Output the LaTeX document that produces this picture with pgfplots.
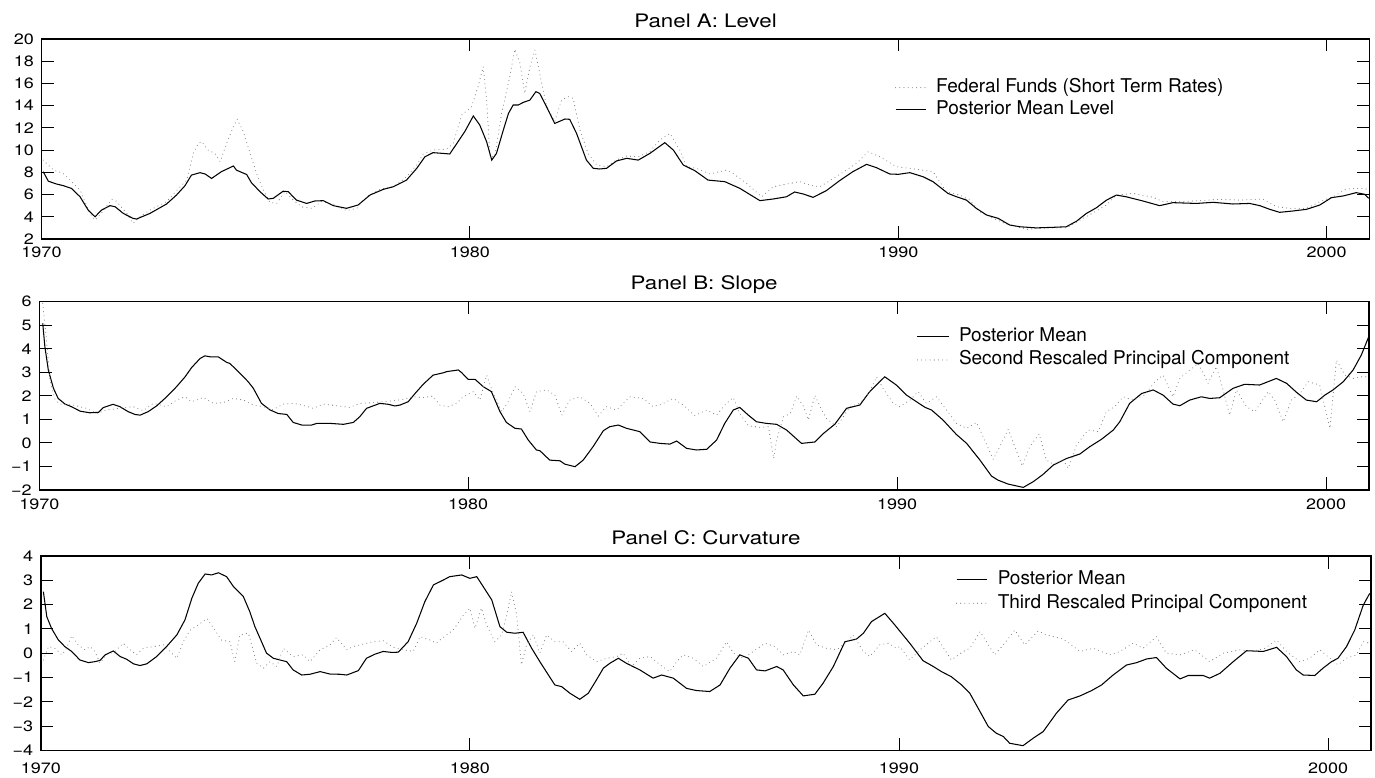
\documentclass[border=0pt]{standalone}
\usepackage{fontspec}
\setmainfont{TeX Gyre Heros}
\newfontfamily\stretchfamily{TeX Gyre Heros}[FakeStretch=1.2]
\usepackage{pgfplots}
\pgfplotsset{compat=1.18}
\newcommand\tickfont{\stretchfamily\fontsize{15bp}{18bp}\selectfont}
\newcommand\titlefont{\stretchfamily\fontsize{18.6bp}{22bp}\selectfont}
\newcommand\legfont{\fontsize{19bp}{22bp}\selectfont}
\pgfplotsset{
  every axis title/.style={at={(0.5,1)}, anchor=base, yshift=11.8bp, inner sep=0pt, font=\titlefont},
  panel/.style={
    scale only axis, xmin=1970, xmax=2001,
    xtick={1970,1980,1990,2000}, xticklabels={1970,1980,1990,2000},
    tick align=inside, major tick length=12.5bp,
    axis line style={line width=1.5bp},
    tick style={line width=0.9bp, black},
    ticklabel style={font=\tickfont},
    yticklabel style={anchor=east, inner sep=0pt, xshift=-7.5bp},
    legend cell align=left,
    legend image code/.code={\draw[##1] (0bp,0bp) -- (30bp,0bp);},
  },
  solidline/.style={black, line width=1.05bp},
  dotline/.style={black!50, line width=1.1bp, line cap=round, dash pattern=on 0pt off 4.2bp},
}
\begin{document}
\begin{tikzpicture}
\useasboundingbox (0,0) rectangle (1375bp,778bp);
% ---------------- Panel A ----------------
\begin{axis}[panel, at={(41.5bp,539bp)}, anchor=south west, width=1328bp, height=200bp,
  ymin=2, ymax=20, ytick={2,4,6,8,10,12,14,16,18,20},
  yticklabels={2,4,6,8,10,12,14,16,18,20},
  xticklabel style={anchor=base, inner sep=0pt, yshift=-18.5bp},
  title={Panel A: Level},
  legend style={draw=none, fill=none, at={(0.6427,0.8015)}, anchor=north west, inner sep=0pt, outer sep=0pt,
    font=\legfont, row sep=3.5bp, column sep=10bp, nodes={inner sep=0pt, text height=14bp, text depth=4bp}},
]
\addplot[dotline] coordinates {(1970.04,9.1)(1970.28,8.2)(1970.51,7.9)(1970.90,6.4)(1971.13,4.3)(1971.25,3.7)(1971.37,4.2)(1971.64,5.57)(1971.75,5.4)(1971.99,4.3)(1972.14,3.4)(1972.30,4.0)(1972.53,4.6)(1972.92,5.36)(1973.15,6.35)(1973.39,7.3)(1973.54,9.7)(1973.66,10.6)(1973.74,10.76)(1973.89,10.0)(1974.05,9.7)(1974.17,8.96)(1974.32,10.6)(1974.48,12.1)(1974.57,12.77)(1974.71,11.66)(1974.87,9.7)(1975.02,7.9)(1975.18,6.4)(1975.33,5.3)(1975.49,5.2)(1975.68,6.26)(1975.88,5.5)(1976.07,4.9)(1976.31,4.76)(1976.54,5.36)(1976.81,5.15)(1977.12,4.55)(1977.36,4.76)(1977.59,5.8)(1977.90,6.47)(1978.21,6.7)(1978.48,7.45)(1978.76,8.66)(1978.91,9.65)(1979.14,10.0)(1979.46,10.1)(1979.61,10.6)(1979.81,13.16)(1980.04,13.9)(1980.19,15.7)(1980.31,17.5)(1980.39,14.5)(1980.47,9.4)(1980.58,9.4)(1980.74,13.3)(1980.93,16.6)(1981.05,19.07)(1981.17,17.8)(1981.28,15.1)(1981.40,17.5)(1981.52,19.0)(1981.63,16.9)(1981.79,13.9)(1981.98,12.56)(1982.14,14.5)(1982.30,14.8)(1982.41,14.66)(1982.57,11.8)(1982.76,9.7)(1982.96,8.66)(1983.19,8.5)(1983.42,9.1)(1983.66,9.47)(1983.93,9.4)(1984.20,9.86)(1984.43,10.9)(1984.67,11.5)(1984.90,10.0)(1985.06,8.5)(1985.29,8.36)(1985.60,7.85)(1985.99,8.2)(1986.14,7.9)(1986.46,7.0)(1986.81,5.8)(1987.08,6.7)(1987.39,6.95)(1987.70,7.16)(1987.93,6.85)(1988.17,6.7)(1988.48,7.45)(1988.79,8.2)(1989.02,8.8)(1989.30,9.86)(1989.57,9.4)(1989.96,8.5)(1990.27,8.36)(1990.81,8.06)(1991.12,6.26)(1991.44,5.95)(1991.67,5.5)(1991.90,4.46)(1992.21,3.86)(1992.52,3.35)(1992.99,2.87)(1993.46,3.0)(1993.92,3.0)(1994.24,3.7)(1994.55,4.36)(1994.86,5.06)(1995.09,5.95)(1995.48,6.1)(1995.95,5.75)(1996.18,5.36)(1996.57,5.36)(1997.04,5.45)(1997.50,5.57)(1997.97,5.5)(1998.51,5.6)(1998.83,4.9)(1999.14,4.76)(1999.53,4.76)(1999.84,5.36)(2000.15,5.8)(2000.46,6.5)(2000.77,6.56)(2000.98,6.47)};
\addlegendentry{Federal Funds (Short Term Rates)}
\addplot[solidline] coordinates {(1970.04,8.06)(1970.16,7.2)(1970.35,6.95)(1970.51,6.8)(1970.70,6.55)(1970.90,5.8)(1971.09,4.6)(1971.25,4.0)(1971.40,4.6)(1971.60,5.0)(1971.72,4.9)(1971.91,4.3)(1972.14,3.85)(1972.22,3.8)(1972.53,4.3)(1972.92,5.15)(1973.15,5.95)(1973.35,6.8)(1973.50,7.75)(1973.70,7.97)(1973.82,7.85)(1973.97,7.45)(1974.20,8.06)(1974.48,8.57)(1974.55,8.2)(1974.79,7.8)(1974.90,7.07)(1975.10,6.26)(1975.29,5.6)(1975.41,5.66)(1975.64,6.3)(1975.76,6.26)(1975.95,5.5)(1976.19,5.2)(1976.38,5.42)(1976.58,5.45)(1976.81,5.0)(1977.12,4.76)(1977.39,5.06)(1977.67,5.96)(1977.98,6.47)(1978.21,6.7)(1978.52,7.3)(1978.76,8.36)(1978.95,9.4)(1979.14,9.77)(1979.38,9.7)(1979.53,9.65)(1979.88,11.66)(1980.08,13.07)(1980.23,12.26)(1980.39,10.76)(1980.51,9.1)(1980.62,9.7)(1980.78,11.8)(1980.90,13.3)(1981.01,14.06)(1981.13,14.06)(1981.25,14.3)(1981.40,14.5)(1981.54,15.26)(1981.63,15.1)(1981.79,13.9)(1981.98,12.4)(1982.10,12.6)(1982.22,12.8)(1982.33,12.77)(1982.49,11.5)(1982.72,9.1)(1982.88,8.36)(1983.03,8.3)(1983.19,8.36)(1983.42,9.02)(1983.66,9.26)(1983.93,9.1)(1984.20,9.7)(1984.55,10.67)(1984.75,10.0)(1984.98,8.66)(1985.25,8.15)(1985.56,7.3)(1985.95,7.16)(1986.30,6.56)(1986.77,5.45)(1987.08,5.6)(1987.39,5.8)(1987.58,6.23)(1987.78,6.05)(1988.01,5.75)(1988.32,6.35)(1988.63,7.25)(1988.94,8.06)(1989.26,8.72)(1989.49,8.42)(1989.80,7.85)(1990.00,7.82)(1990.27,7.97)(1990.58,7.6)(1990.81,7.16)(1991.16,6.1)(1991.36,5.8)(1991.59,5.5)(1991.82,4.76)(1992.06,4.16)(1992.33,3.86)(1992.60,3.26)(1992.84,3.1)(1993.22,3.0)(1993.61,3.05)(1993.92,3.1)(1994.16,3.6)(1994.39,4.3)(1994.62,4.8)(1994.86,5.5)(1995.09,5.95)(1995.32,5.8)(1995.71,5.42)(1996.10,5.0)(1996.41,5.27)(1996.96,5.2)(1997.35,5.3)(1997.81,5.15)(1998.20,5.2)(1998.44,5.0)(1998.67,4.67)(1998.90,4.4)(1999.21,4.52)(1999.53,4.67)(1999.84,5.06)(2000.11,5.72)(2000.38,5.87)(2000.69,6.17)(2000.89,6.02)(2000.98,5.66)};
\addlegendentry{Posterior Mean Level}
\end{axis}
% ---------------- Panel B ----------------
\begin{axis}[panel, at={(39.3bp,288bp)}, anchor=south west, width=1329.7bp, height=188.3bp,
  ymin=-2, ymax=6, ytick={-2,-1,0,1,2,3,4,5,6},
  yticklabels={−2,−1,0,1,2,3,4,5,6},
  xticklabel style={anchor=base, inner sep=0pt, yshift=-20bp},
  title={Panel B: Slope},
  legend style={draw=none, fill=none, at={(0.66,0.862)}, anchor=north west, inner sep=0pt, outer sep=0pt,
    font=\legfont, row sep=5.3bp, column sep=9.5bp, nodes={inner sep=0pt, text height=14bp, text depth=4bp}},
  legend image code/.code={\draw[#1] (0bp,0bp) -- (31.5bp,0bp);},
]
\addplot[solidline] coordinates {(1970.08,5.08)(1970.13,4.09)(1970.21,3.1)(1970.33,2.32)(1970.44,1.89)(1970.60,1.65)(1970.75,1.54)(1970.95,1.35)(1971.18,1.28)(1971.38,1.3)(1971.49,1.5)(1971.72,1.64)(1971.88,1.54)(1972.07,1.33)(1972.23,1.21)(1972.35,1.18)(1972.54,1.33)(1972.74,1.58)(1972.97,1.96)(1973.20,2.39)(1973.40,2.81)(1973.55,3.2)(1973.75,3.59)(1973.86,3.7)(1973.98,3.66)(1974.17,3.66)(1974.37,3.42)(1974.44,3.38)(1974.64,3.03)(1974.87,2.6)(1974.99,2.32)(1975.18,1.68)(1975.38,1.4)(1975.57,1.25)(1975.77,1.21)(1975.92,0.87)(1976.12,0.76)(1976.35,0.76)(1976.47,0.83)(1976.78,0.83)(1977.09,0.79)(1977.32,0.87)(1977.47,1.11)(1977.63,1.47)(1977.94,1.68)(1978.14,1.64)(1978.29,1.57)(1978.41,1.61)(1978.60,1.75)(1978.76,2.1)(1978.95,2.49)(1979.18,2.88)(1979.42,2.98)(1979.50,3.03)(1979.77,3.1)(1979.85,2.98)(1980.00,2.7)(1980.16,2.7)(1980.35,2.39)(1980.54,2.18)(1980.74,1.33)(1980.89,0.87)(1981.09,0.62)(1981.24,0.59)(1981.40,0.12)(1981.59,-0.3)(1981.67,-0.33)(1981.90,-0.73)(1982.14,-0.76)(1982.25,-0.9)(1982.49,-1.01)(1982.68,-0.73)(1982.91,-0.16)(1983.15,0.52)(1983.30,0.69)(1983.50,0.76)(1983.69,0.62)(1984.00,0.48)(1984.24,0.04)(1984.47,-0.02)(1984.70,-0.05)(1984.86,0.08)(1985.09,-0.23)(1985.32,-0.3)(1985.56,-0.27)(1985.79,0.12)(1985.98,0.83)(1986.18,1.4)(1986.33,1.51)(1986.53,1.18)(1986.72,0.9)(1986.95,0.83)(1987.19,0.79)(1987.42,0.55)(1987.77,-0.02)(1988.08,0.04)(1988.28,0.4)(1988.55,0.8)(1988.82,1.47)(1989.13,1.61)(1989.36,2.18)(1989.71,2.81)(1989.98,2.46)(1990.22,2.03)(1990.45,1.75)(1990.65,1.51)(1990.80,1.4)(1991.07,0.97)(1991.38,0.36)(1991.62,-0.02)(1991.93,-0.73)(1992.20,-1.41)(1992.35,-1.58)(1992.59,-1.75)(1992.94,-1.89)(1993.17,-1.65)(1993.40,-1.34)(1993.64,-0.94)(1993.95,-0.66)(1994.26,-0.47)(1994.49,-0.16)(1994.76,0.15)(1995.04,0.55)(1995.19,0.9)(1995.42,1.68)(1995.70,2.1)(1995.97,2.25)(1996.20,2.03)(1996.43,1.65)(1996.59,1.58)(1996.82,1.82)(1997.09,1.96)(1997.29,1.89)(1997.52,1.92)(1997.83,2.32)(1998.10,2.49)(1998.45,2.46)(1998.84,2.74)(1999.08,2.53)(1999.31,2.15)(1999.54,1.82)(1999.78,1.75)(1999.97,2.03)(2000.16,2.25)(2000.40,2.6)(2000.63,3.1)(2000.82,3.73)(2001.0,4.54)};
\addlegendentry{Posterior Mean}
\addplot[dotline] coordinates {(1970.08,5.93)(1970.16,4.51)(1970.25,2.67)(1970.37,1.82)(1970.48,1.65)(1970.79,1.61)(1971.10,1.47)(1971.34,1.25)(1971.57,1.4)(1971.88,1.47)(1972.19,1.54)(1972.42,1.37)(1972.66,1.68)(1972.97,1.54)(1973.20,1.82)(1973.40,1.96)(1973.55,1.75)(1973.82,1.93)(1974.06,1.68)(1974.29,1.71)(1974.52,1.89)(1974.76,1.82)(1974.99,1.61)(1975.22,1.54)(1975.45,1.42)(1975.69,1.65)(1975.92,1.68)(1976.12,1.61)(1976.39,1.47)(1976.62,1.65)(1976.93,1.58)(1977.24,1.51)(1977.47,1.68)(1977.79,1.71)(1978.02,1.75)(1978.25,1.79)(1978.49,1.85)(1978.72,1.96)(1978.95,1.93)(1979.18,1.99)(1979.34,1.61)(1979.53,1.54)(1979.73,1.68)(1979.88,1.96)(1980.12,2.18)(1980.27,1.82)(1980.43,2.88)(1980.58,2.1)(1980.78,1.33)(1980.93,1.75)(1981.09,2.39)(1981.28,2.1)(1981.44,1.33)(1981.59,2.18)(1981.83,2.25)(1982.02,2.03)(1982.18,1.18)(1982.37,1.82)(1982.60,1.96)(1982.84,1.68)(1983.03,1.14)(1983.22,1.54)(1983.46,1.4)(1983.77,1.96)(1984.08,1.89)(1984.31,1.54)(1984.55,1.68)(1984.78,1.89)(1985.01,1.61)(1985.28,1.16)(1985.56,1.4)(1985.79,1.18)(1985.98,1.61)(1986.18,1.93)(1986.33,1.25)(1986.53,0.73)(1986.81,0.66)(1987.00,0.69)(1987.12,-0.66)(1987.19,0.12)(1987.35,1.11)(1987.51,1.25)(1987.66,1.99)(1987.82,1.54)(1987.93,0.97)(1988.08,2.03)(1988.24,1.4)(1988.35,1.04)(1988.59,0.69)(1988.90,1.54)(1989.13,1.68)(1989.36,2.18)(1989.52,2.81)(1989.67,2.32)(1989.91,1.68)(1990.06,1.54)(1990.30,1.82)(1990.49,2.18)(1990.68,1.68)(1990.92,1.96)(1991.15,1.4)(1991.38,0.83)(1991.62,0.62)(1991.85,0.87)(1992.04,0.12)(1992.24,-0.7)(1992.39,-0.16)(1992.59,0.58)(1992.74,-0.16)(1992.92,-0.98)(1993.09,-0.16)(1993.31,0.38)(1993.48,-0.73)(1993.64,-0.9)(1993.87,-0.73)(1993.99,-1.08)(1994.18,-0.09)(1994.45,0.55)(1994.69,0.48)(1994.88,1.33)(1995.07,1.54)(1995.27,1.96)(1995.50,1.82)(1995.77,2.03)(1996.01,2.6)(1996.20,2.88)(1996.43,1.96)(1996.59,2.74)(1996.82,3.1)(1997.02,3.38)(1997.25,2.53)(1997.44,3.24)(1997.60,2.25)(1997.75,1.18)(1997.91,2.25)(1998.14,1.54)(1998.34,1.33)(1998.65,2.18)(1998.80,1.82)(1999.00,0.9)(1999.19,1.82)(1999.39,2.1)(1999.58,2.6)(1999.85,2.46)(2000.09,0.62)(2000.24,3.52)(2000.44,2.88)(2000.63,2.74)(2000.79,2.81)(2001.0,2.81)};
\addlegendentry{Second Rescaled Principal Component}
\end{axis}
% ---------------- Panel C ----------------
\begin{axis}[panel, at={(40.8bp,27.7bp)}, anchor=south west, width=1330.2bp, height=194.3bp,
  ymin=-4, ymax=4, ytick={-4,-3,-2,-1,0,1,2,3,4},
  yticklabels={−4,−3,−2,−1,0,1,2,3,4},
  xticklabel style={anchor=base, inner sep=0pt, yshift=-23.5bp},
  title={Panel C: Curvature},
  legend style={draw=none, fill=none, at={(0.688,0.923)}, anchor=north west, inner sep=0pt, outer sep=0pt,
    font=\legfont, row sep=5.3bp, column sep=10bp, nodes={inner sep=0pt, text height=14bp, text depth=4bp}},
  legend image code/.code={\draw[#1] (0bp,0bp) -- (30.7bp,0bp);},
]
\addplot[solidline] coordinates {(1970.06,2.53)(1970.14,1.5)(1970.25,1.02)(1970.41,0.54)(1970.56,0.27)(1970.72,0.07)(1970.91,-0.28)(1971.11,-0.39)(1971.26,-0.35)(1971.38,-0.3)(1971.50,-0.07)(1971.69,0.09)(1971.85,-0.14)(1972.00,-0.25)(1972.16,-0.44)(1972.31,-0.51)(1972.47,-0.44)(1972.70,-0.14)(1972.93,0.27)(1973.17,0.75)(1973.36,1.37)(1973.52,2.26)(1973.67,2.88)(1973.83,3.26)(1973.98,3.22)(1974.14,3.31)(1974.33,3.15)(1974.49,2.74)(1974.72,2.33)(1974.87,1.71)(1974.99,1.09)(1975.11,0.61)(1975.26,0.0)(1975.42,-0.21)(1975.57,-0.28)(1975.73,-0.35)(1975.88,-0.69)(1976.08,-0.9)(1976.27,-0.87)(1976.51,-0.76)(1976.74,-0.86)(1976.97,-0.87)(1977.13,-0.9)(1977.40,-0.72)(1977.59,-0.21)(1977.79,-0.04)(1977.98,0.07)(1978.18,0.03)(1978.33,0.04)(1978.56,0.47)(1978.76,1.23)(1978.95,2.12)(1979.15,2.81)(1979.38,3.01)(1979.53,3.15)(1979.81,3.22)(1980.00,3.08)(1980.16,3.15)(1980.31,2.74)(1980.51,2.19)(1980.70,1.09)(1980.86,0.86)(1981.05,0.82)(1981.24,0.86)(1981.44,0.2)(1981.63,-0.35)(1981.83,-0.9)(1981.98,-1.31)(1982.14,-1.38)(1982.33,-1.65)(1982.56,-1.9)(1982.76,-1.65)(1982.95,-1.1)(1983.11,-0.62)(1983.26,-0.42)(1983.46,-0.21)(1983.65,-0.42)(1983.96,-0.69)(1984.27,-1.03)(1984.47,-0.9)(1984.74,-1.03)(1985.05,-1.45)(1985.28,-1.54)(1985.59,-1.58)(1985.83,-1.31)(1986.06,-0.62)(1986.29,-0.07)(1986.49,-0.21)(1986.68,-0.69)(1986.88,-0.73)(1987.15,-0.55)(1987.30,-0.69)(1987.54,-1.31)(1987.77,-1.76)(1988.04,-1.69)(1988.23,-1.24)(1988.47,-0.55)(1988.74,0.47)(1989.01,0.58)(1989.17,0.82)(1989.36,1.3)(1989.67,1.64)(1989.87,1.23)(1990.06,0.82)(1990.25,0.41)(1990.56,-0.31)(1990.80,-0.55)(1990.99,-0.76)(1991.22,-0.97)(1991.46,-1.31)(1991.65,-1.65)(1991.89,-2.41)(1992.08,-3.02)(1992.27,-3.3)(1992.43,-3.43)(1992.58,-3.71)(1992.89,-3.81)(1993.13,-3.5)(1993.36,-3.23)(1993.67,-2.47)(1993.94,-1.93)(1994.22,-1.76)(1994.49,-1.54)(1994.72,-1.31)(1994.99,-0.9)(1995.30,-0.49)(1995.54,-0.39)(1995.77,-0.24)(1996.00,-0.18)(1996.23,-0.62)(1996.55,-1.06)(1996.74,-0.92)(1997.09,-0.92)(1997.24,-1.03)(1997.48,-0.83)(1997.79,-0.35)(1998.10,0.1)(1998.49,0.07)(1998.80,0.24)(1999.03,-0.14)(1999.26,-0.69)(1999.42,-0.9)(1999.69,-0.92)(1999.88,-0.62)(2000.08,-0.35)(2000.23,-0.21)(2000.43,0.27)(2000.62,0.95)(2000.82,1.98)(2000.97,2.46)};
\addlegendentry{Posterior Mean}
\addplot[dotline] coordinates {(1970.06,-0.28)(1970.18,0.27)(1970.33,0.2)(1970.49,-0.07)(1970.60,0.2)(1970.72,0.72)(1970.87,0.34)(1971.03,0.14)(1971.15,0.27)(1971.26,0.07)(1971.38,-0.41)(1971.53,-0.07)(1971.73,0.07)(1971.92,0.41)(1972.08,0.14)(1972.23,-0.07)(1972.39,0.2)(1972.62,0.27)(1972.86,0.34)(1973.09,-0.07)(1973.17,-0.21)(1973.32,0.47)(1973.48,0.95)(1973.67,1.16)(1973.87,1.43)(1974.06,0.95)(1974.21,0.54)(1974.41,0.47)(1974.52,-0.35)(1974.64,0.75)(1974.84,0.82)(1975.03,-0.41)(1975.19,-0.62)(1975.34,-0.35)(1975.50,-0.55)(1975.65,0.2)(1975.88,-0.14)(1976.12,-0.07)(1976.27,-0.35)(1976.51,0.14)(1976.74,0.34)(1976.89,0.64)(1977.13,0.14)(1977.28,0.27)(1977.52,0.38)(1977.75,0.47)(1977.98,0.51)(1978.22,0.24)(1978.45,0.14)(1978.68,0.07)(1978.84,0.68)(1979.07,0.54)(1979.22,0.41)(1979.30,0.54)(1979.61,0.95)(1979.85,1.57)(1980.00,1.85)(1980.12,1.02)(1980.27,1.85)(1980.39,1.16)(1980.58,0.47)(1980.74,0.75)(1980.86,1.57)(1980.97,2.53)(1981.09,1.57)(1981.20,-0.48)(1981.32,0.34)(1981.48,0.75)(1981.63,0.0)(1981.79,0.75)(1981.98,0.47)(1982.17,0.47)(1982.37,0.07)(1982.56,0.41)(1982.72,-0.07)(1982.95,-0.35)(1983.19,-0.21)(1983.42,-0.14)(1983.57,0.0)(1983.77,-0.55)(1983.96,-0.21)(1984.20,-0.14)(1984.43,-0.48)(1984.66,-0.76)(1984.82,-0.35)(1984.97,-0.07)(1985.21,-0.21)(1985.44,-0.55)(1985.75,-0.21)(1985.98,0.47)(1986.14,0.0)(1986.37,-0.21)(1986.60,0.07)(1986.88,0.41)(1987.11,0.27)(1987.30,-0.07)(1987.54,0.07)(1987.69,-0.07)(1987.89,0.95)(1988.08,0.34)(1988.31,0.2)(1988.55,0.14)(1988.78,0.47)(1988.93,0.75)(1989.17,0.07)(1989.32,-0.14)(1989.55,0.34)(1989.75,0.41)(1989.94,0.2)(1990.02,0.27)(1990.25,-0.28)(1990.53,0.2)(1990.87,0.68)(1991.22,-0.28)(1991.50,0.07)(1991.65,0.2)(1991.89,0.89)(1992.23,-0.07)(1992.43,0.34)(1992.70,0.95)(1992.93,0.34)(1993.24,0.91)(1993.44,0.75)(1993.83,0.58)(1994.22,0.07)(1994.53,0.2)(1994.91,-0.07)(1995.15,0.07)(1995.46,0.41)(1995.69,0.2)(1996.00,0.68)(1996.23,0.0)(1996.55,-0.07)(1996.89,0.14)(1997.24,-0.35)(1997.56,0.0)(1997.94,0.14)(1998.25,0.07)(1998.53,0.2)(1998.80,0.54)(1999.03,0.07)(1999.34,-0.35)(1999.57,-0.21)(1999.81,0.14)(2000.04,-0.21)(2000.23,-0.48)(2000.43,-0.21)(2000.66,-0.07)(2000.82,0.47)(2000.97,0.41)};
\addlegendentry{Third Rescaled Principal Component}
\end{axis}
\end{tikzpicture}
\end{document}
